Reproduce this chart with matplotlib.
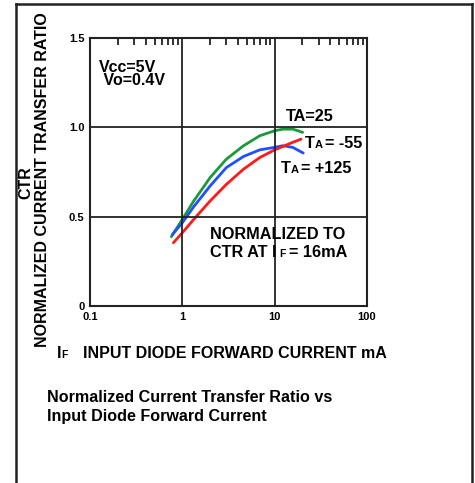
import numpy as np
import matplotlib.pyplot as plt
from matplotlib.lines import Line2D
from matplotlib.ticker import LogLocator, NullFormatter

plt.rcParams['font.family'] = ['Liberation Sans', 'DejaVu Sans']
plt.rcParams['font.weight'] = 'bold'

# Curve data (IF in mA, normalized CTR)
if_25 = [0.76, 1.0, 1.33, 2.0, 3.0, 4.6, 6.9, 10, 12.3, 15.7, 20.1]
ctr_25 = [0.388, 0.485, 0.588, 0.719, 0.822, 0.897, 0.953, 0.981, 0.99, 0.99, 0.972]

if_125 = [0.78, 1.0, 1.33, 2.0, 3.0, 4.6, 6.9, 10, 12.3, 15.7, 20.4]
ctr_125 = [0.40, 0.466, 0.556, 0.672, 0.775, 0.837, 0.874, 0.888, 0.897, 0.888, 0.856]

if_m55 = [0.80, 1.0, 1.33, 2.0, 3.0, 4.6, 6.9, 10, 12.3, 15.7, 19.3]
ctr_m55 = [0.354, 0.41, 0.485, 0.588, 0.681, 0.766, 0.831, 0.874, 0.893, 0.916, 0.934]

x_ticks = [0.1, 1, 10, 100]
x_tick_labels = ['0.1', '1', '10', '100']
y_ticks = [0, 0.5, 1.0, 1.5]
y_tick_labels = ['0', '0.5', '1.0', '1.5']

W, H = 475, 483
fig = plt.figure(figsize=(W / 100, H / 100), dpi=100)


def px(x, y):
    return x / W, 1 - y / H


# outer frame (open at bottom)
for xs, ys in [([16, 472], [4, 4]), ([16, 16], [4, 483]), ([472, 472], [4, 483])]:
    fig.add_artist(Line2D([x / W for x in xs], [1 - y / H for y in ys],
                          color='#222222', lw=1.8))

ax = fig.add_axes([90 / W, 1 - 306 / H, 277 / W, 268 / H])
ax.set_xscale('log')
ax.set_xlim(0.1, 100)
ax.set_ylim(0, 1.5)

ax.plot(if_25, ctr_25, color='#1a9a3a', lw=2, solid_capstyle='round')
ax.plot(if_125, ctr_125, color='#1f4fff', lw=2, solid_capstyle='round')
ax.plot(if_m55, ctr_m55, color='#ff1a1a', lw=2, solid_capstyle='round')

for v in [1, 10]:
    ax.axvline(v, color='#222222', lw=1.3)
for v in [0.5, 1.0]:
    ax.axhline(v, color='#222222', lw=1.3)
for s in ax.spines.values():
    s.set_color('#222222')
    s.set_linewidth(1.5)

ax.set_xticks(x_ticks)
ax.set_xticklabels(x_tick_labels, fontsize=8, fontweight='bold')
ax.set_yticks(y_ticks)
ax.set_yticklabels(y_tick_labels, fontsize=8, fontweight='bold')
ax.tick_params(which='major', length=0, pad=4)
ax.xaxis.set_minor_locator(LogLocator(base=10, subs=np.arange(2, 10)))
ax.xaxis.set_minor_formatter(NullFormatter())
ax.tick_params(which='minor', axis='x', top=True, bottom=False, direction='in',
               length=5, width=1.3, color='#222222')

# axis labels
fig.text(*px(43, 180), 'NORMALIZED CURRENT TRANSFER RATIO', rotation=90,
         ha='center', va='center', fontsize=11.5, fontweight='bold')
fig.text(*px(26, 183), 'CTR', rotation=90, ha='center', va='center',
         fontsize=11.5, fontweight='bold')
fig.text(*px(57, 358), 'I', ha='left', va='baseline', fontsize=11.5, fontweight='bold')
fig.text(*px(61.5, 358), 'F', ha='left', va='baseline', fontsize=7.5, fontweight='bold')
fig.text(*px(83, 358), 'INPUT DIODE FORWARD CURRENT mA', ha='left', va='baseline',
         fontsize=11.5, fontweight='bold')

# annotations
fig.text(*px(99, 60), 'Vcc=5V\n Vo=0.4V', ha='left', va='top', linespacing=0.8,
         fontsize=11.5, fontweight='bold')
fig.text(*px(286, 121), 'TA=25', ha='left', va='baseline', fontsize=11.7, fontweight='bold')

fig.text(*px(305, 148), 'T', ha='left', va='baseline', fontsize=11.7, fontweight='bold')
fig.text(*px(315, 148), 'A', ha='left', va='baseline', fontsize=8, fontweight='bold')
fig.text(*px(325, 148), '= -55', ha='left', va='baseline', fontsize=11.7, fontweight='bold')

fig.text(*px(281, 173), 'T', ha='left', va='baseline', fontsize=11.7, fontweight='bold')
fig.text(*px(291, 173), 'A', ha='left', va='baseline', fontsize=8, fontweight='bold')
fig.text(*px(301, 173), '= +125', ha='left', va='baseline', fontsize=11.7, fontweight='bold')

fig.text(*px(210, 239), 'NORMALIZED TO', ha='left', va='baseline', fontsize=11.7, fontweight='bold')
fig.text(*px(210, 257), 'CTR AT I', ha='left', va='baseline', fontsize=11.7, fontweight='bold')
fig.text(*px(279, 257), 'F', ha='left', va='baseline', fontsize=7.5, fontweight='bold')
fig.text(*px(289, 257), '= 16mA', ha='left', va='baseline', fontsize=11.7, fontweight='bold')

# caption
fig.text(*px(47, 402), 'Normalized Current Transfer Ratio vs', ha='left', va='baseline',
         fontsize=11.6, fontweight='bold')
fig.text(*px(47, 421), 'Input Diode Forward Current', ha='left', va='baseline',
         fontsize=11.6, fontweight='bold')

fig.savefig('out.png', dpi=100)
